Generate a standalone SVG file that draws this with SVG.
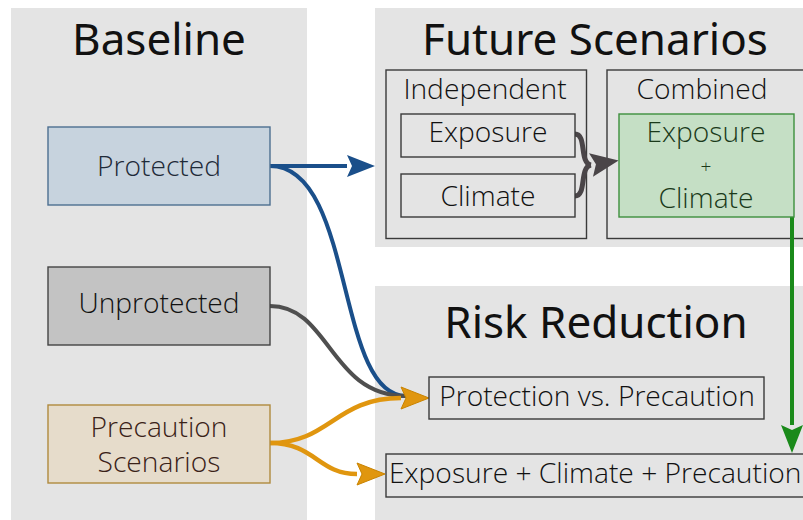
<svg xmlns="http://www.w3.org/2000/svg" width="803" height="520" viewBox="0 0 803 520">
<style>
text{font-family:"Noto Sans","Open Sans","DejaVu Sans",sans-serif;text-anchor:middle;fill:#111111}
.title{font-size:44px}
.lbl{font-size:28.2px;font-family:"Open Sans","Noto Sans",sans-serif;font-weight:300}
.cluster{fill:#e4e4e4;stroke:none}
.sub{fill:none;stroke:#3a3a3a;stroke-width:1.4}
.box{fill:none;stroke:#3a3a3a;stroke-width:1.4}
.edge{fill:none}
</style>
<defs>
<marker id="mBlue" markerUnits="userSpaceOnUse" markerWidth="30" markerHeight="22" refX="0" refY="11" orient="auto" overflow="visible"><path d="M0,0 L28,11 L0,22 L5,11 z" fill="#1a4f8a"/></marker>
<marker id="mOrange" markerUnits="userSpaceOnUse" markerWidth="30" markerHeight="22" refX="0" refY="11" orient="auto" overflow="visible"><path d="M0,0 L28,11 L0,22 L5,11 z" fill="#e0960f" stroke="#c98300" stroke-width="1"/></marker>
<marker id="mGreen" markerUnits="userSpaceOnUse" markerWidth="30" markerHeight="22" refX="0" refY="11" orient="auto" overflow="visible"><path d="M0,0 L28,11 L0,22 L5,11 z" fill="#1a8a1a"/></marker>
<marker id="mGray" markerUnits="userSpaceOnUse" markerWidth="30" markerHeight="24" refX="0" refY="12" orient="auto" overflow="visible"><path d="M0,0 L28,12 L0,24 L5,12 z" fill="#4a4548"/></marker>
</defs>
<rect width="803" height="520" fill="#ffffff"/>

<g id="cluster-baseline">
<rect class="cluster" x="11" y="8" width="296" height="520"/>
<text class="title" x="159" y="55">Baseline</text>
</g>
<g id="cluster-future">
<rect class="cluster" x="375" y="8" width="440" height="239"/>
<text class="title" x="595" y="55">Future Scenarios</text>
</g>
<g id="cluster-risk">
<rect class="cluster" x="375" y="286" width="440" height="240"/>
<text class="title" x="596" y="338">Risk Reduction</text>
</g>
<g id="cluster-independent">
<rect class="sub" x="386" y="70" width="200.5" height="168.5"/>
<text class="lbl" x="485" y="99">Independent</text>
</g>
<g id="cluster-combined">
<rect class="sub" x="607" y="70" width="210" height="168.5"/>
<text class="lbl" x="702" y="99">Combined</text>
</g>

<g id="connectors">
<path class="edge" d="M270,166 L347,166" stroke="#1a4f8a" stroke-width="4" marker-end="url(#mBlue)"/>
<path class="edge" d="M270,166 C355,166 335,396 406,396" stroke="#1a4f8a" stroke-width="4"/>
<path class="edge" d="M270,306 C330,306 330,396 406,396" stroke="#4f4f4f" stroke-width="4"/>
<path class="edge" d="M270,443 C330,443 335,398 401,398" stroke="#e0960f" stroke-width="4.5" marker-end="url(#mOrange)"/>
<path class="edge" d="M270,443 C315,443 318,474 357,474" stroke="#e0960f" stroke-width="4.5" marker-end="url(#mOrange)"/>
<path class="edge" d="M575,134 C587,134 579,163 591,165" stroke="#4a4548" stroke-width="5"/>
<path class="edge" d="M575,196 C587,196 579,167 591,165" stroke="#4a4548" stroke-width="5" marker-end="url(#mGray)"/>
<path class="edge" d="M792,217 L792,425" stroke="#1a8a1a" stroke-width="4" marker-end="url(#mGreen)"/>
</g>

<g id="node-protected">
<rect x="48" y="127" width="222" height="78" fill="#c7d3de" stroke="#4d6f91" stroke-width="1.4"/>
<text class="lbl" x="159" y="176" style="fill:#1e2a38">Protected</text>
</g>
<g id="node-unprotected">
<rect x="48" y="267" width="222" height="78" fill="#c3c3c3" stroke="#444444" stroke-width="1.4"/>
<text class="lbl" x="159" y="313">Unprotected</text>
</g>
<g id="node-precaution">
<rect x="48" y="405" width="222" height="78" fill="#e6dccb" stroke="#b08a3e" stroke-width="1.4"/>
<text class="lbl" x="159" y="437" style="fill:#3a2218">Precaution</text>
<text class="lbl" x="159" y="472" style="fill:#3a2218">Scenarios</text>
</g>
<g id="node-exposure">
<rect class="box" x="401" y="114" width="174" height="43"/>
<text class="lbl" x="488" y="142">Exposure</text>
</g>
<g id="node-climate">
<rect class="box" x="401" y="174" width="174" height="43"/>
<text class="lbl" x="488" y="206">Climate</text>
</g>
<g id="node-combined">
<rect x="619" y="114" width="175" height="103" fill="#c5dfc5" stroke="#3d8f3d" stroke-width="1.4"/>
<text class="lbl" x="706" y="142" style="fill:#1a3a1a">Exposure</text>
<text class="lbl" x="706" y="173" style="fill:#1a3a1a;font-size:19px">+</text>
<text class="lbl" x="706" y="208" style="fill:#1a3a1a">Climate</text>
</g>
<g id="node-protection-vs-precaution">
<rect class="box" x="429" y="377" width="335" height="42"/>
<text class="lbl" x="597" y="406">Protection vs. Precaution</text>
</g>
<g id="node-ecp">
<rect class="box" x="386" y="454" width="430" height="43"/>
<text class="lbl" x="389" y="483" style="text-anchor:start">Exposure + Climate + Precaution</text>
</g>
</svg>
